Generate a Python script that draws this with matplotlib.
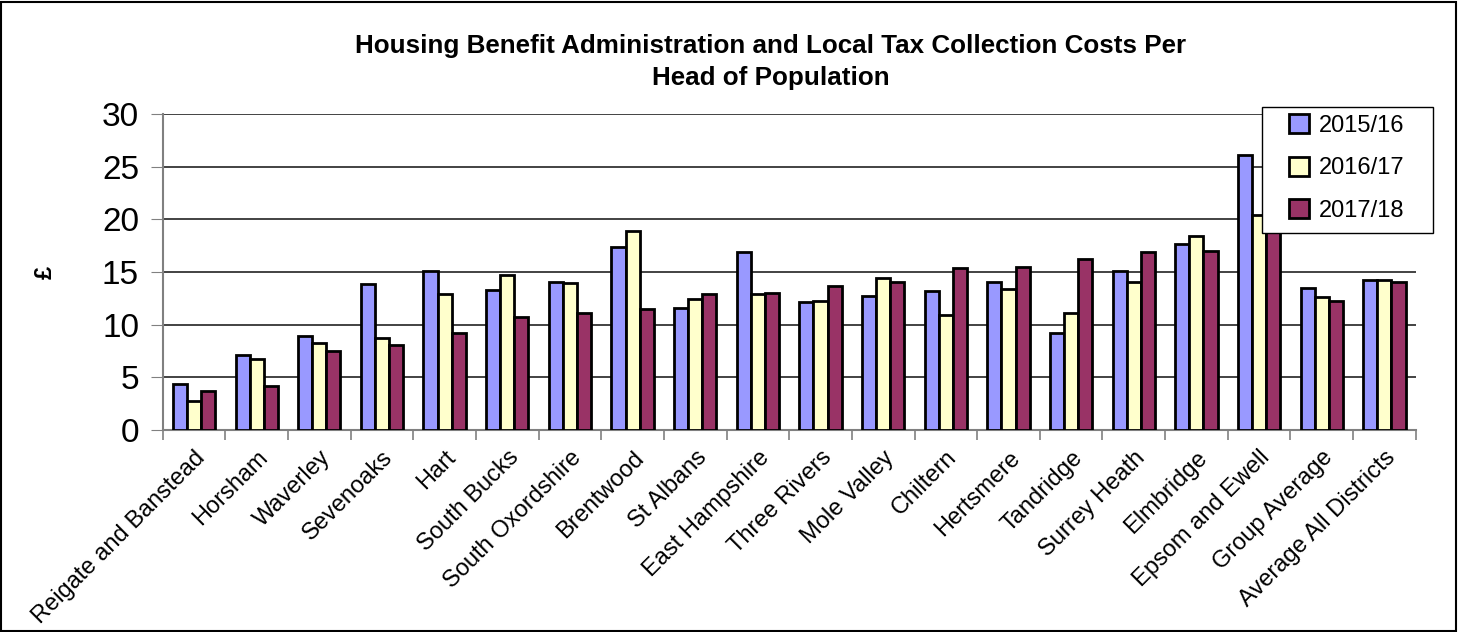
import matplotlib
matplotlib.use('Agg')
import matplotlib.pyplot as plt
import numpy as np
from matplotlib.patches import Rectangle

plt.rcParams['font.family'] = ['Liberation Sans', 'DejaVu Sans']

# Data
districts = ['Reigate and Banstead', 'Horsham', 'Waverley', 'Sevenoaks', 'Hart',
             'South Bucks', 'South Oxordshire', 'Brentwood', 'St Albans',
             'East Hampshire', 'Three Rivers', 'Mole Valley', 'Chiltern',
             'Hertsmere', 'Tandridge', 'Surrey Heath', 'Elmbridge',
             'Epsom and Ewell', 'Group Average', 'Average All Districts']
cost_2015 = [4.37, 7.09, 8.92, 13.83, 15.13, 13.29, 14.08, 17.37, 11.58, 16.93,
             12.12, 12.75, 13.16, 14.05, 9.18, 15.13, 17.66, 26.08, 13.45, 14.21]
cost_2016 = [2.75, 6.77, 8.23, 8.73, 12.91, 14.75, 13.92, 18.86, 12.41, 12.91,
             12.28, 14.46, 10.92, 13.35, 11.11, 14.08, 18.42, 20.38, 12.59, 14.21]
cost_2017 = [3.73, 4.21, 7.47, 8.04, 9.18, 10.70, 11.11, 11.46, 12.94, 13.00,
             13.64, 14.02, 15.41, 15.44, 16.20, 16.93, 16.99, 19.20, 12.28, 14.02]
series_labels = ['2015/16', '2016/17', '2017/18']
series_colors = ['#9999FF', '#FFFFCC', '#993366']

W, H = 1459, 632
fig = plt.figure(figsize=(W / 100, H / 100), dpi=100)
ax = fig.add_axes([162.7 / W, 1 - 430 / H, 1253 / W, 316 / H])

x = np.arange(len(districts))
bar_w = 0.225
for i, (vals, lab, col) in enumerate(zip([cost_2015, cost_2016, cost_2017],
                                         series_labels, series_colors)):
    ax.bar(x + (i - 1) * bar_w, vals, bar_w, label=lab, color=col,
           edgecolor='black', linewidth=2, zorder=3)

ax.set_xlim(-0.5, len(districts) - 0.5)
ax.set_ylim(0, 30)
ax.set_yticks(range(0, 31, 5))
ax.tick_params(axis='y', labelsize=24, length=9, color='#808080', pad=8)
ax.grid(axis='y', color='#222222', linewidth=1.2, zorder=0)

# category boundaries carry the tick marks, centres carry the labels
ax.set_xticks(np.arange(-0.5, len(districts), 1))
ax.set_xticklabels([])
ax.set_xticks(x, minor=True)
ax.set_xticklabels(districts, minor=True, rotation=45, ha='right',
                   rotation_mode='anchor', fontsize=17)
ax.tick_params(axis='x', which='major', length=7, color='#808080', width=1.2)
ax.tick_params(axis='x', which='minor', length=0, pad=12)

for side in ['top', 'right']:
    ax.spines[side].set_visible(False)
for side in ['left', 'bottom']:
    ax.spines[side].set_color('#808080')
    ax.spines[side].set_linewidth(1.5)

fig.text(45 / W, 1 - 272 / H, '£', rotation=90, ha='center', va='center',
         fontsize=17, fontweight='bold')

fig.text(771 / W, 1 - 62 / H,
         'Housing Benefit Administration and Local Tax Collection Costs Per\nHead of Population',
         ha='center', va='center', fontsize=18.7, fontweight='bold', linespacing=1.42)

# legend box drawn separately so its padding can match the reference
fig.patches.append(Rectangle((1262 / W, 1 - 233 / H), 171 / W, 126 / H,
                             transform=fig.transFigure, facecolor='white',
                             edgecolor='black', linewidth=1, zorder=4))
leg = fig.legend(loc='upper left', bbox_to_anchor=(1282 / W, 1 - 107 / H),
                 fontsize=17, frameon=False, handlelength=0.85, handleheight=0.85,
                 handletextpad=0.4, labelspacing=0.85, borderpad=0.3,
                 borderaxespad=0)
leg.set_zorder(5)

# border around the whole chart
fig.patches.append(Rectangle((0.001, 0.002), 0.997, 0.995, transform=fig.transFigure,
                             fill=False, edgecolor='black', linewidth=1.5))

fig.savefig('out.png', dpi=100)
